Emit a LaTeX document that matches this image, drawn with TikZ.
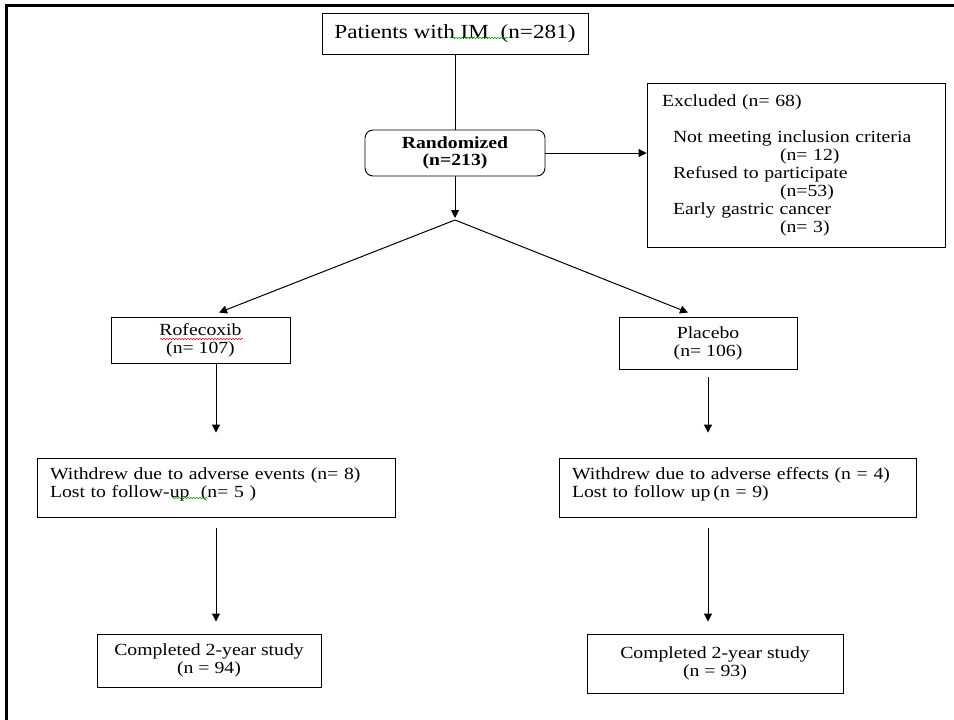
\documentclass[tikz,border=0pt]{standalone}
\usepackage{fontspec}
\setmainfont{Liberation Serif}[FakeStretch=1.16]
\usetikzlibrary{arrows.meta,decorations.pathmorphing}
\tikzset{
  box/.style={draw, line width=0.9pt, inner sep=0pt, align=center,
    font=\fontsize{17}{18}\selectfont},
  lbox/.style={box, align=left, inner xsep=13pt},
  arr/.style={line width=1pt, -{Triangle[length=8pt,width=8pt]}},
  squig/.style={decorate, decoration={snake, segment length=3pt, amplitude=0.7pt}, line width=0.5pt}
}
\begin{document}
\begin{tikzpicture}[x=1pt, y=-1pt]
\useasboundingbox (0,0) rectangle (954,720);
% frame (cropped)
\draw[line width=3pt] (6,720) -- (6,5) -- (954,5);

\node[box, minimum width=266pt, minimum height=41pt, font=\fontsize{20}{22}\selectfont]
  (pat) at (455,33.5) {Patients with IM~~(n=281)};
\node[box, minimum width=180pt, minimum height=46pt, rounded corners=8pt,
  font=\fontsize{17}{17}\selectfont\bfseries]
  (rand) at (455,153) {Randomized\\(n=213)};
\node[lbox, inner xsep=15pt, text width=268pt, minimum width=298pt, minimum height=164pt]
  (excl) at (796,165) {Excluded (n= 68)\\ \mbox{}\\
  \hspace*{11pt}Not meeting inclusion criteria\\
  \hspace*{118pt}(n= 12)\\
  \hspace*{11pt}Refused to participate\\
  \hspace*{118pt}(n=53)\\
  \hspace*{11pt}Early gastric cancer\\
  \hspace*{118pt}(n= 3)};
\coordinate (j) at (455,220);
\node[box, minimum width=179pt, minimum height=46pt] (rof) at (200.5,340) {Rofecoxib\\(n= 107)};
\node[box, minimum width=178pt, minimum height=52pt] (plac) at (708,343) {Placebo\\(n= 106)};
\node[lbox, text width=332pt, minimum width=358pt, minimum height=59pt] (wl) at (216,487.5)
  {Withdrew due to adverse events (n= 8)\\Lost to follow-up~~(n= 5 )\\[-9pt] \mbox{}};
\node[lbox, text width=331pt, minimum width=357pt, minimum height=59pt] (wr) at (737.5,487.5)
  {Withdrew due to adverse effects (n = 4)\\Lost to follow up\,(n = 9)\\[-9pt] \mbox{}};
\node[box, minimum width=224pt, minimum height=53pt] (cl) at (209,660.5) {Completed 2-year study\\(n = 94)};
\node[box, minimum width=256pt, minimum height=59pt] (cr) at (715,663.5) {Completed 2-year study\\(n = 93)};

% connectors
\draw[line width=1pt] (pat.south) -- (rand.north);
\draw[arr] (rand.east) -- (rand.east -| excl.west);
\draw[arr, shorten >=2pt] (rand.south) -- (j);
\draw[arr] (j) -- ([xshift=18.5pt,yshift=4pt]rof.north);
\draw[arr] (j) -- ([xshift=-20pt,yshift=4pt]plac.north);
\draw[arr, shorten >=25pt] (wl.north |- rof.south) -- (wl.north);
\draw[arr, shorten <=8pt, shorten >=25pt] (plac.south) -- (plac.south |- wr.north);
\draw[arr, shorten <=11pt, shorten >=12pt] (wl.south) -- (wl.south |- cl.north);
\draw[arr, shorten <=11pt, shorten >=12pt] (plac.south |- wr.south) -- (plac.south |- cr.north);

% spell-check underlines
\draw[squig, green!60!black] (452,38) -- (508,38);
\draw[squig, red] (160,339) -- (243,339);
\draw[squig, green!60!black] (172,498) -- (208,498);
\end{tikzpicture}
\end{document}
